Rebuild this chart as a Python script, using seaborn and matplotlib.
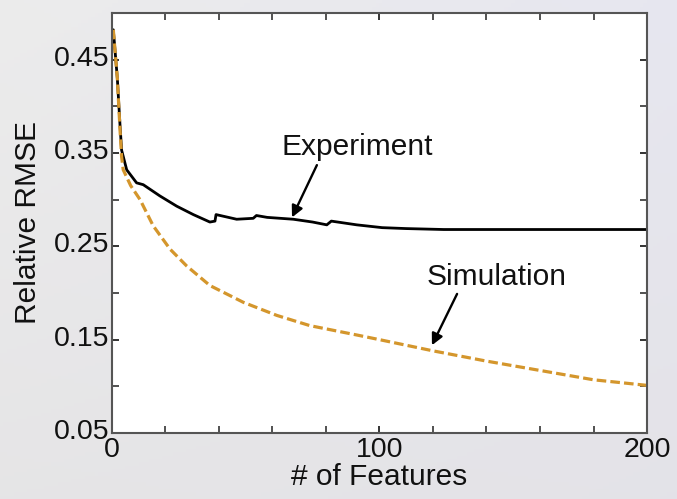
import numpy as np
import pandas as pd
import matplotlib
matplotlib.use("Agg")
import matplotlib.pyplot as plt
import matplotlib.transforms as mtransforms
from matplotlib.ticker import MultipleLocator, FixedLocator
import seaborn as sns

# ---- data ----
exp_x = [0.5, 2, 3, 3.6, 5.5, 9.2, 11.7, 17.9, 24.2, 30.4, 36.6, 38.5, 38.9, 46.6, 52.8, 54, 58, 67.8, 75, 80.3, 82, 91.5, 101, 110, 124, 140, 160, 180, 200]
exp_y = [0.482, 0.43, 0.38, 0.353, 0.332, 0.318, 0.316, 0.304, 0.293, 0.284, 0.276, 0.277, 0.284, 0.279, 0.280, 0.283, 0.281, 0.279, 0.276, 0.273, 0.277, 0.273, 0.270, 0.269, 0.268, 0.268, 0.268, 0.268, 0.268]

sim_x = [0.5, 2, 3, 3.6, 4.2, 7, 10.5, 15.4, 21.7, 27.9, 36.6, 49.1, 61.6, 74, 91.5, 100, 120, 140, 160, 170, 180, 200]
sim_y = [0.482, 0.43, 0.375, 0.346, 0.332, 0.315, 0.300, 0.272, 0.247, 0.229, 0.208, 0.190, 0.176, 0.165, 0.155, 0.150, 0.138, 0.127, 0.117, 0.112, 0.107, 0.101]

x_major = [0, 100, 200]
y_major = [0.05, 0.15, 0.25, 0.35, 0.45]
y_labels = ["0.05", "0.15", "0.25", "0.35", "0.45"]

exp_df = pd.DataFrame({"x": exp_x, "y": exp_y})
sim_df = pd.DataFrame({"x": sim_x, "y": sim_y})

sns.set_theme(style="white")
plt.rcParams["font.family"] = ["Liberation Sans", "DejaVu Sans"]

bg = "#e5e4e8"
fig = plt.figure(figsize=(6.77, 4.99), dpi=100, facecolor=bg)

# soft background gradient (light grey, lavender tint towards the top right)
bax = fig.add_axes([0, 0, 1, 1], zorder=-10)
gx = np.linspace(0, 1, 200)[None, :]
gy = np.linspace(0, 1, 150)[:, None]
left = np.array([0.925, 0.925, 0.925])
right = np.array([0.905, 0.905, 0.94])
bottom_shade = np.array([0.885, 0.880, 0.890])
img = left[None, None, :] * (1 - gx[..., None]) + right[None, None, :] * gx[..., None]
img = img * (1 - 0.6 * gy[..., None]) + bottom_shade[None, None, :] * (0.6 * gy[..., None])
bax.imshow(img, aspect="auto", extent=[0, 1, 0, 1], origin="upper")
bax.set_axis_off()

ax = fig.add_axes([0.1654, 0.1323, 0.7903, 0.8417])
ax.set_facecolor("white")

sns.lineplot(data=exp_df, x="x", y="y", ax=ax, color="black", lw=2.0, estimator=None, sort=False)
sns.lineplot(data=sim_df, x="x", y="y", ax=ax, color="#d4962c", lw=2.3,
             linestyle=(0, (3.0, 1.3)), estimator=None, sort=False)

ax.set_xlim(0, 200)
ax.set_ylim(0.05, 0.50)

ax.xaxis.set_major_locator(FixedLocator(x_major))
ax.xaxis.set_minor_locator(MultipleLocator(20))
ax.yaxis.set_major_locator(FixedLocator(y_major))
ax.yaxis.set_minor_locator(FixedLocator([0.10, 0.20, 0.30, 0.40]))
ax.set_yticklabels(y_labels)
ax.set_xticklabels([str(v) for v in x_major])

ax.tick_params(which="both", direction="in", length=5, width=1.2, color="#333333",
               top=True, right=True, bottom=True, left=True)
ax.tick_params(which="major", labelsize=20.5, colors="#111111")
ax.tick_params(axis="y", which="major", pad=2)
ax.tick_params(axis="x", which="major", pad=3)
for s in ax.spines.values():
    s.set_color("#555555")
    s.set_linewidth(1.5)

# y tick labels sit a few pixels above their ticks in the reference
up = mtransforms.ScaledTranslation(0, 4 / 100, fig.dpi_scale_trans)
for lab in ax.get_yticklabels():
    lab.set_transform(lab.get_transform() + up)

ax.set_xlabel("# of Features", fontsize=21.5, color="#111111", labelpad=0)
ax.set_ylabel("Relative RMSE", fontsize=21.5, color="#111111", labelpad=8)

ax.text(91.6, 0.356, "Experiment", fontsize=21.5, ha="center", va="center", color="#111111")
ax.annotate("", xy=(67.3, 0.281), xytext=(76.6, 0.337),
            arrowprops=dict(arrowstyle="-|>", color="black", lw=1.7,
                            mutation_scale=17, shrinkA=0, shrinkB=0))
ax.text(143.9, 0.217, "Simulation", fontsize=21.5, ha="center", va="center", color="#111111")
ax.annotate("", xy=(119.6, 0.144), xytext=(129.0, 0.199),
            arrowprops=dict(arrowstyle="-|>", color="black", lw=1.7,
                            mutation_scale=17, shrinkA=0, shrinkB=0))

fig.savefig("out.png", dpi=100, facecolor=bg)
